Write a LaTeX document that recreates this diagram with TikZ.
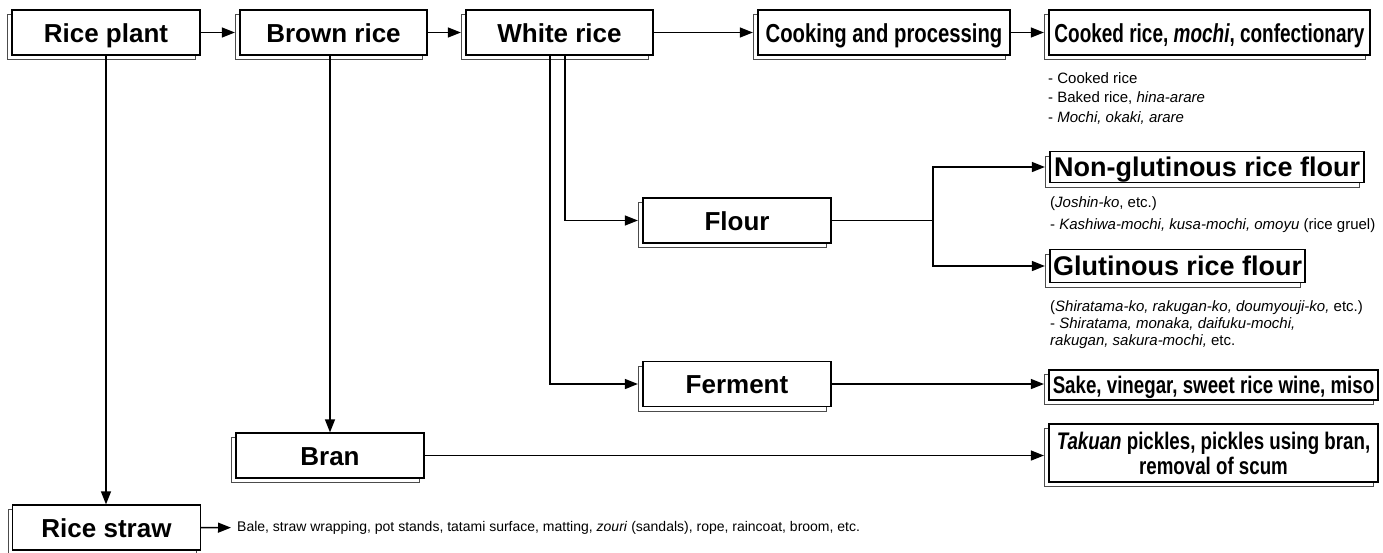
\documentclass[tikz,border=0pt]{standalone}
\usepackage{fontspec}
\setmainfont{Liberation Sans}
\newfontfamily\narrowfont[FakeStretch=0.78]{Liberation Sans}
\newfontfamily\narrowerfont[FakeStretch=0.73]{Liberation Sans}
\usetikzlibrary{arrows.meta,shadows}

\begin{document}
\begin{tikzpicture}[x=1pt,y=-1pt,
    box/.style={draw,line width=1.2pt,fill=white,inner sep=0pt,minimum height=45pt,
      text height=19pt,text depth=0pt,font=\fontsize{26}{30}\selectfont\bfseries,
      copy shadow={shadow xshift=-4.5pt,shadow yshift=-4.5pt,draw=black!70,line width=0.9pt}},
    narrowbox/.style={box,font=\narrowfont\fontsize{26}{30}\selectfont\bfseries},
    arr/.style={-{Triangle[length=13pt,width=10pt]},line width=1.3pt},
    note/.style={anchor=north west,inner sep=0pt,align=left,font=\fontsize{15}{19.5}\selectfont}]
    \useasboundingbox (0,0) rectangle (1383,552);
    % main line
    \node[box,minimum width=188pt] (riceplant) at (106,32.5) {Rice plant};
    \node[box,minimum width=187pt] (brownrice) at (333.5,32.5) {Brown rice};
    \node[box,minimum width=187pt] (whiterice) at (559.5,32.5) {White rice};
    \node[narrowbox,minimum width=252pt] (cooking) at (884,32.5) {Cooking and processing};
    \node[narrowbox,minimum width=321pt,font=\narrowerfont\fontsize{26}{30}\selectfont\bfseries] (cooked) at (1209.5,32.5) {Cooked rice, \textit{mochi}, confectionary};
    \node[box,minimum width=188pt] (flour) at (737,220.5) {Flour};
    \node[box,minimum width=188pt] (ferment) at (737,384) {Ferment};
    \node[box,minimum width=188pt] (bran) at (330,455.5) {Bran};
    \node[box,minimum width=188pt] (ricestraw) at (106.5,527.5) {Rice straw};
    \node[box,minimum width=314pt,minimum height=31pt,font=\fontsize{27}{30}\selectfont\bfseries] (nonglut) at (1207,167) {Non-glutinous rice flour};
    \node[box,minimum width=255pt,minimum height=33pt,font=\fontsize{27}{30}\selectfont\bfseries] (glut) at (1177.5,266) {Glutinous rice flour};
    \node[narrowbox,minimum width=329pt,minimum height=30pt,text height=17pt,font=\narrowfont\fontsize{24}{28}\selectfont\bfseries] (sake) at (1213.5,385) {Sake, vinegar, sweet rice wine, miso};
    \node[narrowbox,minimum width=329pt,minimum height=58pt,text height=,text depth=,align=center,font=\narrowfont\fontsize{24}{25}\selectfont\bfseries] (takuan) at (1213.5,453) {\textit{Takuan} pickles, pickles using bran,\\removal of scum};
    % notes
    \node[note] (cookednote) at (1048,72) {- Cooked rice\\- Baked rice, \textit{hina-arare}\\- \textit{Mochi, okaki, arare}};
    \node[note,font=\fontsize{15}{22}\selectfont] (nonglutnote) at (1050,196) {(\textit{Joshin-ko}, etc.)\\- \textit{Kashiwa-mochi, kusa-mochi, omoyu} (rice gruel)};
    \node[note,font=\fontsize{15}{17}\selectfont] (glutnote) at (1050,300) {(\textit{Shiratama-ko, rakugan-ko, doumyouji-ko,} etc.)\\- \textit{Shiratama, monaka, daifuku-mochi,}\\\textit{rakugan, sakura-mochi,} etc.};
    \node[anchor=west,inner sep=0pt,font=\fontsize{14}{18}\selectfont] (bale) at (237,528) {Bale, straw wrapping, pot stands, tatami surface, matting, \textit{zouri} (sandals), rope, raincoat, broom, etc.};
    \coordinate (fork) at (933,220.5);
    % connectors
    \draw[arr,shorten >=4.5pt] (riceplant) -- (brownrice);
    \draw[arr,shorten >=4.5pt] (brownrice) -- (whiterice);
    \draw[arr,shorten >=4.5pt] (whiterice) -- (cooking);
    \draw[arr,shorten >=4.5pt] (cooking) -- (cooked);
    \draw[arr] (riceplant) -- (riceplant |- ricestraw.north);
    \draw[arr] (brownrice.south -| bran) -- (bran);
    \draw[arr,shorten >=4.5pt] ([xshift=5.5pt]whiterice.south) |- (flour);
    \draw[arr,shorten >=4.5pt] ([xshift=-9.5pt]whiterice.south) |- (ferment);
    \draw[line width=1.3pt] (flour) -- (fork);
    \draw[arr,shorten >=4.5pt] (fork) |- (nonglut);
    \draw[arr,shorten >=4.5pt] (fork) |- (glut);
    \draw[arr,shorten >=4.5pt] (ferment) -- (ferment -| sake.west);
    \draw[arr,shorten >=4.5pt] (bran) -- (bran -| takuan.west);
    \draw[arr,shorten >=6pt] (ricestraw) -- (bale);
  \end{tikzpicture}
\end{document}
